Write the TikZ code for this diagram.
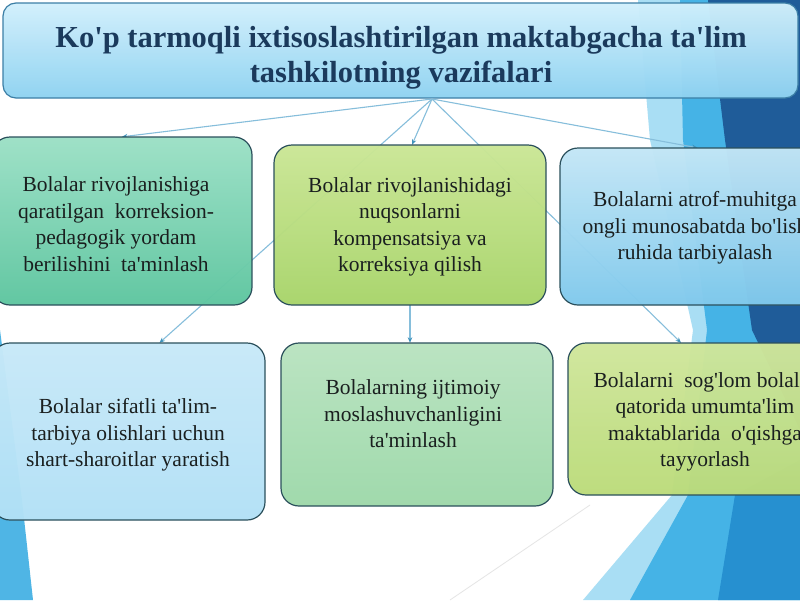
\documentclass[tikz,border=0pt]{standalone}
\usepackage{fontspec}
\setmainfont{Liberation Serif}
\setsansfont{Liberation Sans}
\usetikzlibrary{arrows.meta}
\newcommand{\aps}{\textquotesingle}
\definecolor{bgLight}{HTML}{A9DEF4}
\definecolor{bgMid}{HTML}{45B3E6}
\definecolor{bgNavy}{HTML}{1F5C99}
\definecolor{bgDark}{HTML}{2690D0}
\definecolor{bgLeft}{HTML}{4FB5E5}
\definecolor{connC}{HTML}{86BEDB}
\definecolor{tipC}{HTML}{3F93BC}
\definecolor{titleTxt}{HTML}{1B3A5C}
\definecolor{bodyTxt}{HTML}{1A1F1F}
\definecolor{edgeC}{HTML}{2B505C}
\definecolor{titleEdge}{HTML}{3C7FA6}
\definecolor{titleTop}{HTML}{D2F0FC}
\definecolor{titleBot}{HTML}{8ED2F1}
\definecolor{tlTop}{HTML}{9CE0C6}
\definecolor{tlBot}{HTML}{5EC6A0}
\definecolor{tmTop}{HTML}{CBE796}
\definecolor{tmBot}{HTML}{A8D46A}
\definecolor{trTop}{HTML}{C4E7F6}
\definecolor{trBot}{HTML}{80C9EC}
\definecolor{blTop}{HTML}{C8E9F8}
\definecolor{blBot}{HTML}{B2E1F6}
\definecolor{bmTop}{HTML}{B9E4C0}
\definecolor{bmBot}{HTML}{9ED8AA}
\definecolor{brTop}{HTML}{D0E79C}
\definecolor{brBot}{HTML}{BBDB7A}
\begin{document}
\begin{tikzpicture}[x=1pt,y=-1pt,
  box/.style={draw=edgeC, line width=1.2pt, rounded corners=18pt, inner sep=0pt, fill opacity=0.97},
  txt/.style={align=center, inner sep=0pt, text=bodyTxt, font=\fontsize{21.5}{26.5}\selectfont},
  conn/.style={draw=connC, line width=1.1pt, -{Stealth[length=5.5pt,width=4.5pt,color=tipC]}}]
\path[use as bounding box] (0,0) rectangle (800,600);
\clip (0,0) rectangle (800,600);
\fill[white] (0,0) rectangle (800,600);
% background shapes
\fill[bgLight] (638,0) -- (800,0) -- (800,600) -- (583,600) -- (672,495) -- (693,330) -- (650,140) -- cycle;
\fill[bgMid] (680,0) -- (800,0) -- (800,600) -- (630,600) -- (688,495) -- (707,330) -- (683,140) -- cycle;
\fill[bgNavy] (708,0) -- (800,0) -- (800,430) -- (752,330) -- (725,140) -- cycle;
\fill[bgDark] (735,495) -- (800,460) -- (800,600) -- (718,600) -- cycle;
\fill[bgLeft] (0,330) -- (22,500) -- (33,600) -- (0,600) -- cycle;
\draw[black!10, line width=0.8pt] (450,600) -- (590,505);
% title box
\node[box, top color=titleTop, bottom color=titleBot, rounded corners=13pt, draw=titleEdge,
      minimum width=795pt, minimum height=95pt] (title) at (400.5,50.5) {};
\node[align=center, inner sep=0pt, text=titleTxt, font=\bfseries\fontsize{30.5}{35}\selectfont]
      (titleT) at (401,58) {Ko\aps p tarmoqli ixtisoslashtirilgan maktabgacha ta\aps lim\\tashkilotning vazifalari};
\coordinate (hub) at (432,99);
% box frames as anchors
\path (122,221) node[minimum width=260pt, minimum height=168pt, inner sep=0pt] (tl) {};
\path (410,225) node[minimum width=272pt, minimum height=160pt, inner sep=0pt] (tm) {};
\path (697.5,226.5) node[minimum width=275pt, minimum height=157pt, inner sep=0pt] (tr) {};
\path (128.5,431.5) node[minimum width=273pt, minimum height=177pt, inner sep=0pt] (bl) {};
\path (417,424.5) node[minimum width=272pt, minimum height=163pt, inner sep=0pt] (bm) {};
\path (705,419) node[minimum width=274pt, minimum height=152pt, inner sep=0pt] (br) {};
% connectors (behind boxes)
\draw[conn] (hub) -- (tl.north);
\draw[conn] (hub) -- ([xshift=2pt]tm.north);
\draw[conn] (hub) -- (tr.north);
\draw[conn] (hub) -- ([xshift=31pt]bl.north);
\draw[conn] (hub) -- ([xshift=-24pt]br.north);
\draw[conn] (tm.south) -- (bm.north -| tm.south);
% visible boxes
\node[box, top color=tlTop, bottom color=tlBot, minimum width=260pt, minimum height=168pt] (tlB) at (tl) {};
\node[box, top color=tmTop, bottom color=tmBot, minimum width=272pt, minimum height=160pt] (tmB) at (tm) {};
\node[box, top color=trTop, bottom color=trBot, minimum width=275pt, minimum height=157pt] (trB) at (tr) {};
\node[box, top color=blTop, bottom color=blBot, minimum width=273pt, minimum height=177pt] (blB) at (bl) {};
\node[box, top color=bmTop, bottom color=bmBot, minimum width=272pt, minimum height=163pt] (bmB) at (bm) {};
\node[box, top color=brTop, bottom color=brBot, minimum width=274pt, minimum height=152pt] (brB) at (br) {};
% texts
\node[txt] (tlT) at (116,224) {Bolalar rivojlanishiga\\qaratilgan\ \ korreksion-\\pedagogik yordam\\berilishini\ \ ta\aps minlash};
\node[txt] (tmT) at (410,227) {Bolalar rivojlanishidagi\\nuqsonlarni\\kompensatsiya va\\korreksiya qilish};
\node[txt] (trT) at (695,228) {Bolalarni atrof-muhitga\\ongli munosabatda bo\aps lish\\ruhida tarbiyalash};
\node[txt] (blT) at (128,435) {Bolalar sifatli ta\aps lim-\\tarbiya olishlari uchun\\shart-sharoitlar yaratish};
\node[txt] (bmT) at (413,414) {Bolalarning ijtimoiy\\moslashuvchanligini\\ta\aps minlash};
\node[txt] (brT) at (705,422) {Bolalarni\ \ sog\aps lom bolalar\\qatorida umumta\aps lim\\maktablarida\ \ o\aps qishga\\tayyorlash};
\end{tikzpicture}
\end{document}
